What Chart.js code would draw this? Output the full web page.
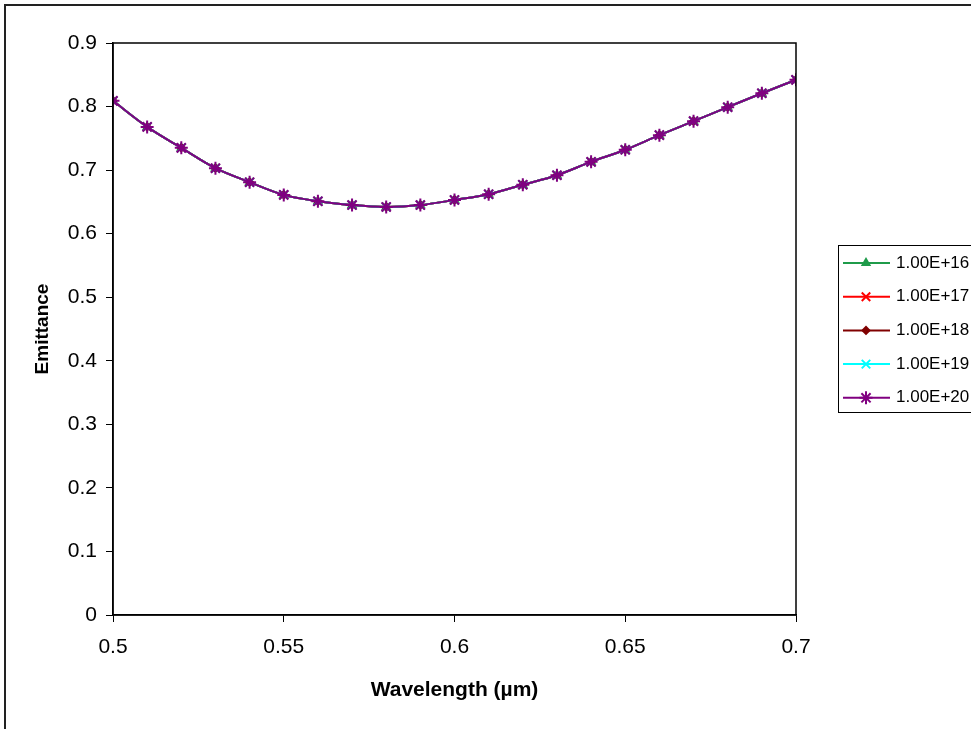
<!DOCTYPE html>
<html>
<head>
<meta charset="utf-8">
<script src="https://cdn.jsdelivr.net/npm/chart.js@4/dist/chart.umd.min.js"></script>
<style>
  html, body { margin:0; padding:0; background:#fff; }
  #wrap { width:971px; height:729px; position:relative; }
</style>
</head>
<body>
<div id="wrap"><canvas id="myChart" width="971" height="729"></canvas></div>
<script>
// wavelength in um
var wavelength = [0.50,0.51,0.52,0.53,0.54,0.55,0.56,0.57,0.58,0.59,0.60,0.61,0.62,0.63,0.64,0.65,0.66,0.67,0.68,0.69,0.70];
// emittance per doping level (curves lie on top of each other)
var e16 = [0.809,0.768,0.735,0.703,0.681,0.661,0.651,0.645,0.642,0.645,0.653,0.662,0.677,0.692,0.713,0.732,0.755,0.777,0.799,0.821,0.842];
var e17 = [0.809,0.768,0.735,0.703,0.681,0.661,0.651,0.645,0.642,0.645,0.653,0.662,0.677,0.692,0.713,0.732,0.755,0.777,0.799,0.821,0.842];
var e18 = [0.809,0.768,0.735,0.703,0.681,0.661,0.651,0.645,0.642,0.645,0.653,0.662,0.677,0.692,0.713,0.732,0.755,0.777,0.799,0.821,0.842];
var e19 = [0.809,0.768,0.735,0.703,0.681,0.661,0.651,0.645,0.642,0.645,0.653,0.662,0.677,0.692,0.713,0.732,0.755,0.777,0.799,0.821,0.842];
var e20 = [0.809,0.768,0.735,0.703,0.681,0.661,0.651,0.645,0.642,0.645,0.653,0.662,0.677,0.692,0.713,0.732,0.755,0.777,0.799,0.821,0.842];
var seriesNames = ['1.00E+16','1.00E+17','1.00E+18','1.00E+19','1.00E+20'];
var xTicks = [0.5,0.55,0.6,0.65,0.7];
var yTicks = [0,0.1,0.2,0.3,0.4,0.5,0.6,0.7,0.8,0.9];

var colors = ['#1f9b4a','#ff0000','#800000','#00ffff','#800080'];
var styles = ['triangle','crossRot','rectRot','crossRot','star'];
var radii = [4,6,3.5,6,6.5];
var allData = [e16,e17,e18,e19,e20];

function pts(arr){
	return arr.map(function(v,i){ return {x:wavelength[i], y:v}; });
}

var datasets = [];
allData.forEach(function(arr,i){
	datasets.push({
		label:seriesNames[i],
		data:pts(arr),
		order:4-i,
		borderColor:colors[i],
		backgroundColor:colors[i],
		borderWidth:2,
		pointStyle:styles[i],
		pointRadius:radii[i],
		pointBorderColor:colors[i],
		pointBackgroundColor:colors[i],
		pointBorderWidth:2,
		cubicInterpolationMode:'monotone'
	});
});

var fontFam = '"Liberation Sans", Arial, sans-serif';

var framePlugin = {
	id:'frame',
	afterDraw:function(chart){
		var ctx = chart.ctx, a = chart.chartArea;
		ctx.save();
		// outer border
		ctx.strokeStyle = '#222';
		ctx.lineWidth = 2;
		ctx.beginPath();
		ctx.moveTo(5,729); ctx.lineTo(5,5); ctx.lineTo(971,5);
		ctx.stroke();
		// plot box
		ctx.strokeStyle = '#000';
		ctx.lineWidth = 1.5;
		ctx.strokeRect(a.left, a.top, a.right - a.left, a.bottom - a.top);
		// legend
		var lx = 838, ly = 245, lw = 140, lh = 167;
		ctx.lineWidth = 1;
		ctx.strokeRect(lx+0.5, ly+0.5, lw, lh);
		ctx.font = '17px ' + fontFam;
		ctx.textBaseline = 'middle';
		chart.data.datasets.forEach(function(ds,i){
			var y = 263 + i*33.7;
			ctx.strokeStyle = ds.borderColor;
			ctx.fillStyle = ds.borderColor;
			ctx.lineWidth = 2;
			ctx.beginPath();
			ctx.moveTo(843,y); ctx.lineTo(890,y);
			ctx.stroke();
			Chart.helpers.drawPoint(ctx, {pointStyle:ds.pointStyle, radius:ds.pointRadius, rotation:0, borderWidth:ds.pointBorderWidth}, 866, y);
			ctx.fillStyle = '#000';
			ctx.fillText(ds.label, 896, y);
		});
		ctx.restore();
	}
};

var ctx = document.getElementById("myChart").getContext("2d");
var myLineChart = new Chart(ctx, {
	type:'line',
	data:{datasets:datasets},
	plugins:[framePlugin],
	options:{
		responsive:false,
		animation:false,
		layout:{padding:{left:0, top:43, right:175, bottom:0}},
		plugins:{legend:{display:false}, tooltip:{enabled:false}},
		scales:{
			x:{
				type:'linear',
				min:0.5, max:0.7,
				afterBuildTicks:function(s){ s.ticks = xTicks.map(function(v){return {value:v};}); },
				afterFit:function(s){ s.height = 114; },
				grid:{drawOnChartArea:false, tickLength:7, color:'#000', tickColor:'#000'},
				border:{color:'#000', width:1.5},
				ticks:{color:'#000', font:{size:21, family:fontFam}, padding:13, maxRotation:0,
					callback:function(v){ return String(+v.toFixed(2)); }},
				title:{display:true, text:'Wavelength (\u00b5m)', color:'#000',
					font:{size:21, weight:'bold', family:fontFam}, padding:{top:0, bottom:26}}
			},
			y:{
				min:0, max:0.9,
				afterBuildTicks:function(s){ s.ticks = yTicks.map(function(v){return {value:v};}); },
				afterFit:function(s){ s.width = 113; },
				grid:{drawOnChartArea:false, tickLength:7, color:'#000', tickColor:'#000'},
				border:{color:'#000', width:1.5},
				ticks:{color:'#000', font:{size:21, family:fontFam}, padding:9,
					callback:function(v){ return String(+v.toFixed(1)); }},
				title:{display:true, text:'Emittance', color:'#000',
					font:{size:19, weight:'bold', family:fontFam}, padding:{top:31, bottom:0}}
			}
		}
	}
});
</script>
</body>
</html>
